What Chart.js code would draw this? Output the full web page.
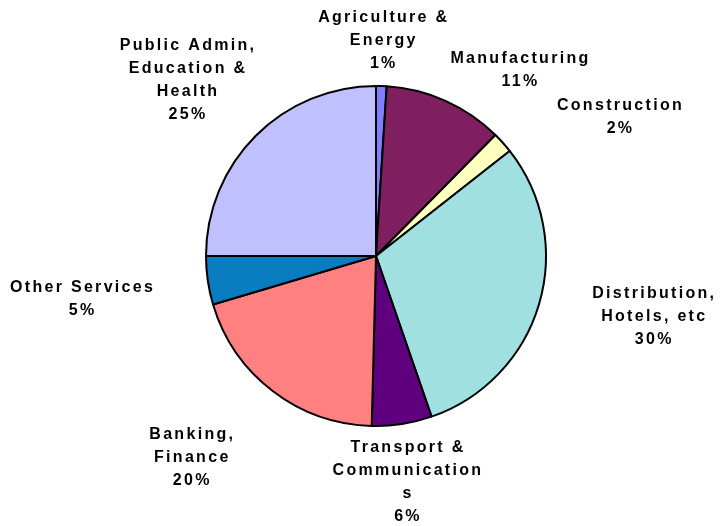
<!DOCTYPE html>
<html>
<head>
<meta charset="utf-8">
<script src="https://cdn.jsdelivr.net/npm/chart.js@4/dist/chart.umd.min.js"></script>
<style>
  html, body { margin: 0; padding: 0; background: #fff; }
  #wrap { width: 720px; height: 526px; }
</style>
</head>
<body>
<div id="wrap"><canvas id="sectorPie"></canvas></div>
<script>
// Sector shares (%), clockwise from 12 o'clock
const sectorLines = [
    ['Agriculture &', 'Energy'],
    ['Manufacturing'],
    ['Construction'],
    ['Distribution,', 'Hotels, etc'],
    ['Transport &', 'Communication', 's'],
    ['Banking,', 'Finance'],
    ['Other Services'],
    ['Public Admin,', 'Education &', 'Health']
];
const sectorShares = [1.0, 11.4, 2.0, 30.3, 5.7, 20.0, 4.6, 25.0];
const sliceColors = ['#8080FF', '#7F1F5F', '#FFFFC0', '#A0E0E0', '#5F007F', '#FF8080', '#0A7DC0', '#C0C0FF'];

// label placement relative to each slice: extra angle (deg) and distance as multiple of radius
const labelTurn = [0, 13.6, 12, -4, 1, 5, 0, -2];
const labelDist = [1.27, 1.38, 1.65, 1.67, 1.34, 1.61, 1.75, 1.52];

const outsideLabels = {
    id: 'outsideLabels',
    afterDatasetsDraw(chart) {
        const ctx = chart.ctx;
        const arcs = chart.getDatasetMeta(0).data;
        ctx.save();
        ctx.fillStyle = '#000';
        ctx.font = 'bold 16px "Liberation Sans", Arial, sans-serif';
        ctx.letterSpacing = '2.3px';
        ctx.textAlign = 'center';
        ctx.textBaseline = 'middle';
        const lineH = 23;
        arcs.forEach((arc, i) => {
            const mid = (arc.startAngle + arc.endAngle) / 2 + labelTurn[i] * Math.PI / 180;
            const d = arc.outerRadius * labelDist[i];
            const cx = arc.x + Math.cos(mid) * d;
            const cy = arc.y + Math.sin(mid) * d;
            const lines = sectorLines[i].concat([Math.round(sectorShares[i]) + '%']);
            const top = cy - (lines.length - 1) * lineH / 2;
            lines.forEach((t, j) => {
                ctx.fillText(t, cx + 1, top + j * lineH);
            });
        });
        ctx.restore();
    }
};

new Chart(document.getElementById('sectorPie'), {
    type: 'pie',
    data: {
        labels: sectorLines.map(l => l.join(' ')),
        datasets: [{
            data: sectorShares,
            backgroundColor: sliceColors,
            borderColor: '#000',
            borderWidth: 2
        }]
    },
    options: {
        responsive: true,
        maintainAspectRatio: false,
        animation: false,
        layout: {
            padding: { left: 205, right: 173, top: 85, bottom: 99 }
        },
        plugins: {
            legend: { display: false },
            tooltip: { enabled: false }
        }
    },
    plugins: [outsideLabels]
});
</script>
</body>
</html>
